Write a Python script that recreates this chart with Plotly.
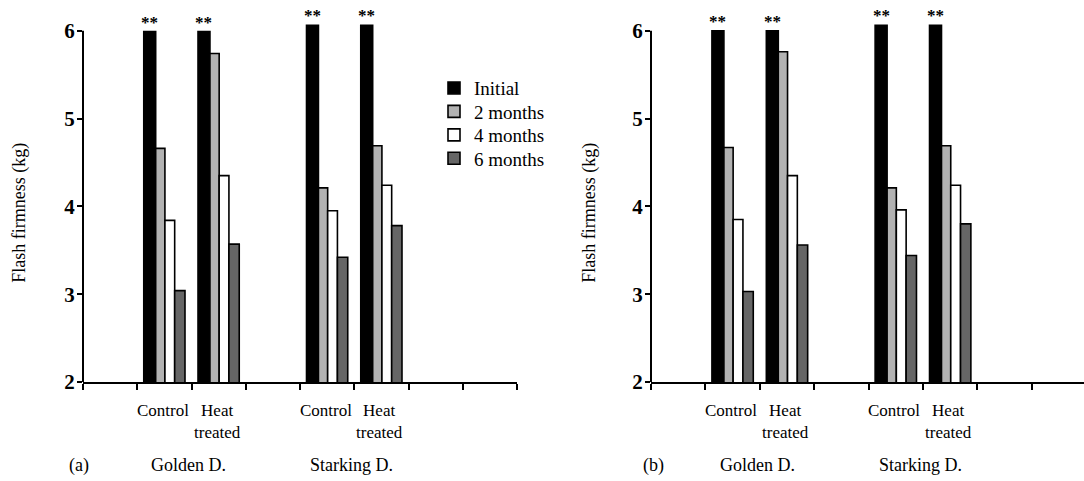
import plotly.graph_objects as go

# ---------------- data ----------------
series = ["Initial", "2 months", "4 months", "6 months"]
groups = ["Golden control", "Golden heat treated", "Starking control", "Starking heat treated"]
group_labels = ["Control", "Heat<br>treated", "Control", "Heat<br>treated"]
cultivars = ["Golden D.", "Starking D."]

a_initial = [5.99, 5.99, 6.06, 6.06]
a_2m = [4.66, 5.74, 4.21, 4.69]
a_4m = [3.84, 4.35, 3.95, 4.24]
a_6m = [3.04, 3.57, 3.42, 3.78]

b_initial = [6.00, 6.00, 6.06, 6.06]
b_2m = [4.67, 5.76, 4.21, 4.69]
b_4m = [3.85, 4.35, 3.96, 4.24]
b_6m = [3.03, 3.56, 3.44, 3.80]

y_ticks = [2, 3, 4, 5, 6]
star_text = "**"

# ---------------- layout constants ----------------
W, H = 1084, 481
H_LAYOUT = 491  # rendered page area is ~10px shorter than requested height
GROUP_X = [1.5, 2.5, 4.5, 5.5]
CULTIVAR_X = [2.0, 5.0]
colors = ["#000000", "#b2b2b2", "#ffffff", "#666666"]
offsets = [-0.38, -0.16, 0.01, 0.19]
widths = [0.22, 0.17, 0.18, 0.19]
FONT = "Liberation Serif"
LEGEND_ROWS_PX = [86, 109.7, 133.4, 157]
legend_ids = ["legend", "legend2", "legend3", "legend4"]


def px_x(p):
    return p / W


def px_y(p):
    return 1 - p / H


y_bottom_px, y_top_px = 383, 19.1
ydom = [px_y(y_bottom_px), px_y(y_top_px)]

fig = go.Figure()

panels = [
    ("x", "y", [a_initial, a_2m, a_4m, a_6m], True),
    ("x2", "y2", [b_initial, b_2m, b_4m, b_6m], False),
]

for xa, ya, vals, show in panels:
    for i, (name, v) in enumerate(zip(series, vals)):
        fig.add_trace(go.Bar(
            x=GROUP_X, y=v, name=name, xaxis=xa, yaxis=ya,
            offset=offsets[i], width=widths[i],
            marker=dict(color=colors[i], line=dict(color="black", width=1.6)),
            showlegend=show, legend=legend_ids[i], hoverinfo="skip",
        ))

axis_common_x = dict(
    showgrid=False, zeroline=False, showline=True, linecolor="black", linewidth=2,
    ticks="outside", ticklen=6, tickwidth=2, tickcolor="black",
    tickvals=list(range(0, 9)), ticktext=[""] * 9,
)
axis_common_y = dict(
    showgrid=False, zeroline=False, showline=False,
    ticks="outside", ticklen=5, tickwidth=2, tickcolor="black",
    tickvals=y_ticks, range=[2, 6.1], domain=ydom, ticklabelstandoff=-2,
    tickfont=dict(family=FONT, size=21, color="black", weight="bold"),
)

legend_layout = {}
for lid, row in zip(legend_ids, LEGEND_ROWS_PX):
    legend_layout[lid] = dict(x=px_x(434), y=px_y(row), xanchor="left", yanchor="middle",
                              font=dict(family=FONT, size=19, color="black"),
                              bgcolor="rgba(0,0,0,0)", itemclick=False, itemdoubleclick=False)

fig.update_layout(
    width=W, height=H_LAYOUT, margin=dict(l=0, r=0, t=0, b=0),
    paper_bgcolor="white", plot_bgcolor="rgba(0,0,0,0)",
    barmode="overlay",
    font=dict(family=FONT, size=16, color="black"),
    xaxis=dict(domain=[px_x(83), px_x(517)], range=[0, 8], anchor="y", **axis_common_x),
    yaxis=dict(anchor="x", **axis_common_y),
    xaxis2=dict(domain=[px_x(651), 1.0], range=[0, (W - 651) / 54.4], anchor="y2", **axis_common_x),
    yaxis2=dict(anchor="x2", **axis_common_y),
    **legend_layout,
)

annotations = []
shapes = []
for k, (xa, ya, vals, show) in enumerate(panels):
    shapes.append(dict(type="line", xref=f"{xa} domain", yref=ya, x0=0, x1=0,
                       y0=y_ticks[0], y1=y_ticks[-1], line=dict(color="black", width=2)))
    for gx, v in zip(GROUP_X, vals[0]):
        annotations.append(dict(x=gx + offsets[0] + widths[0] / 2, y=v, xref=xa, yref=ya,
                                text=star_text, showarrow=False, yanchor="bottom",
                                yshift=-2, font=dict(family=FONT, size=17, weight="bold")))
    for gx, lab in zip(GROUP_X, group_labels):
        annotations.append(dict(x=gx - 0.03, y=px_y(400), xref=xa, yref="paper", text=lab,
                                showarrow=False, yanchor="top", xanchor="center",
                                font=dict(family=FONT, size=17)))
    for cx, cname in zip(CULTIVAR_X, cultivars):
        annotations.append(dict(x=cx - 0.05, y=px_y(467), xref=xa, yref="paper", text=cname,
                                showarrow=False, yanchor="middle", xanchor="center",
                                font=dict(family=FONT, size=18)))

for letter, lx, tx in [("(a)", 79, 20), ("(b)", 653, 590)]:
    annotations.append(dict(x=px_x(lx), y=px_y(467), xref="paper", yref="paper", text=letter,
                            showarrow=False, xanchor="center", yanchor="middle",
                            font=dict(family=FONT, size=18)))
    annotations.append(dict(x=px_x(tx), y=px_y(212), xref="paper", yref="paper",
                            text="Flash firmness (kg)", textangle=-90, showarrow=False,
                            xanchor="center", yanchor="middle",
                            font=dict(family=FONT, size=18)))

fig.update_layout(annotations=annotations, shapes=shapes)
fig.write_html("out.html")
